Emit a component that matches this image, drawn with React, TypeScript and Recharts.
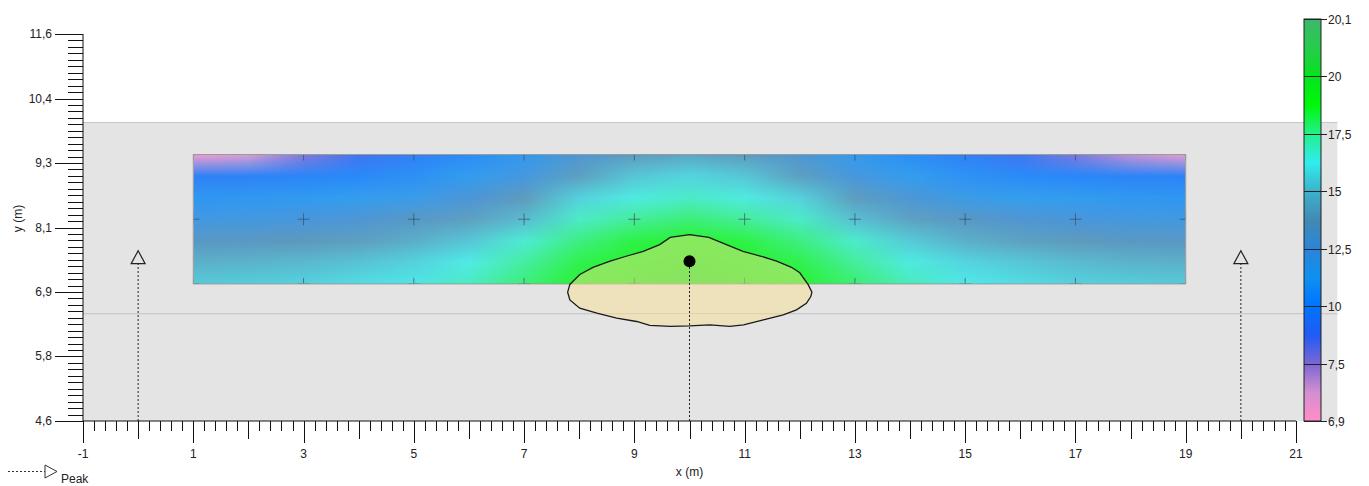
import React from 'react';
import {
  ScatterChart,
  Scatter,
  XAxis,
  YAxis,
  ReferenceArea,
  ReferenceLine,
} from 'recharts';

// axis ranges (m)
const xRange = [-1, 21];
const yRange = [4.6, 11.6];
const xStep = 0.2;
const yDivisions = 60;

// measurement grid
const gridX = [1, 3, 5, 7, 9, 11, 13, 15, 17, 19];
const gridY = [7.08, 8.25, 9.42];

// level map: columns x = 1..19, rows from top to bottom
const mapX = [1, 2, 3, 4, 5, 6, 7, 8, 9, 10, 11, 12, 13, 14, 15, 16, 17, 18, 19];
const mapY = [9.42, 9.03, 8.64, 8.25, 7.86, 7.47, 7.08];
const mapRow0 = [7.0, 7.2, 7.7, 8.8, 9.6, 10.3, 11.0, 12.8, 13.9, 14.3, 13.9, 12.8, 11.1, 10.4, 9.7, 8.9, 7.8, 7.3, 7.1];
const mapRow1 = [9.6, 9.7, 9.9, 10.1, 10.5, 11.1, 12.2, 14.0, 15.3, 15.7, 15.3, 14.0, 12.3, 11.2, 10.6, 10.2, 10.0, 9.8, 9.7];
const mapRow2 = [10.8, 10.9, 11.0, 11.2, 11.6, 12.6, 13.8, 15.6, 16.4, 16.8, 16.4, 15.6, 13.9, 12.7, 11.7, 11.3, 11.1, 10.9, 10.8];
const mapRow3 = [12.0, 12.1, 12.3, 12.7, 13.3, 14.0, 15.0, 16.8, 17.5, 17.9, 17.5, 16.8, 15.1, 14.1, 13.4, 12.8, 12.4, 12.1, 12.0];
const mapRow4 = [13.4, 13.5, 13.7, 14.0, 14.5, 15.3, 16.6, 17.8, 18.5, 18.9, 18.5, 17.8, 16.7, 15.4, 14.6, 14.1, 13.8, 13.5, 13.4];
const mapRow5 = [14.6, 14.7, 14.9, 15.2, 15.6, 16.3, 17.4, 18.4, 19.0, 19.4, 19.0, 18.4, 17.5, 16.4, 15.7, 15.3, 15.0, 14.7, 14.6];
const mapRow6 = [15.4, 15.5, 15.6, 15.9, 16.1, 16.9, 17.9, 18.8, 19.4, 19.8, 19.4, 18.8, 18.0, 17.0, 16.2, 15.9, 15.6, 15.5, 15.4];
const mapRows = [mapRow0, mapRow1, mapRow2, mapRow3, mapRow4, mapRow5, mapRow6];

// colour scale, top to bottom (equally spaced on the bar)
const scaleTicks = [20.1, 20, 17.5, 15, 12.5, 10, 7.5, 6.9];
const scaleStopPos = [0, 1 / 14, 1 / 7, 3 / 14, 2 / 7, 5 / 14, 3 / 7, 1 / 2, 4 / 7, 9 / 14, 5 / 7, 11 / 14, 6 / 7, 13 / 14, 1];
const scaleStopColors = [
  '#3db86c', '#27cc4c', '#05e41c', '#00f80a', '#24ef8c', '#30ecec', '#3cb2cc', '#4289b4',
  '#2a85d8', '#0e90f0', '#0074ff', '#1f5cf4', '#7a66d4', '#d48fd0', '#ff8dc8',
];

// zone outline
const zoneX = [10.0, 10.35, 10.67, 10.97, 11.3, 11.58, 11.85, 12.0, 12.15, 12.22, 12.2, 12.12, 11.94, 11.7, 11.34, 10.98, 10.73, 10.37, 10.0, 9.65, 9.28, 9.04, 8.68, 8.32, 8.01, 7.83, 7.79, 7.83, 8.01, 8.25, 8.56, 8.85, 9.16, 9.46, 9.65];
const zoneY = [7.97, 7.92, 7.79, 7.67, 7.58, 7.49, 7.38, 7.28, 7.07, 6.93, 6.85, 6.73, 6.61, 6.52, 6.43, 6.34, 6.31, 6.34, 6.32, 6.31, 6.33, 6.4, 6.46, 6.55, 6.64, 6.79, 6.93, 7.07, 7.25, 7.38, 7.49, 7.58, 7.67, 7.79, 7.92];

// peaks
const peakX = [0, 10, 20];
const peakTop = [7.68, 7.49, 7.68];
const arrowPeaks = [0, 20];
const source = [{ x: 10, y: 7.49 }];

const areaTop = 10;
const areaRight = 21.75;
const innerLine = 6.54;

const zone = zoneX.map((x, i) => ({ x, y: zoneY[i] }));
const arrows = arrowPeaks.map((x) => ({ x, y: peakTop[peakX.indexOf(x)] }));

const xTicks = Array.from({ length: Math.round((xRange[1] - xRange[0]) / xStep) + 1 }, (_, i) =>
  Math.round((xRange[0] + i * xStep) * 10) / 10
);
const yTicks = Array.from({ length: yDivisions + 1 }, (_, i) =>
  Number((yRange[0] + (i * (yRange[1] - yRange[0])) / yDivisions).toFixed(6))
);

const FONT = '"Liberation Sans", Arial, sans-serif';
const comma = (s: string) => s.replace('.', ',');

const hexRgb = (h: string) => [1, 3, 5].map((i) => parseInt(h.slice(i, i + 2), 16));

function levelPos(v: number) {
  const n = scaleTicks.length - 1;
  for (let i = 0; i < n; i++) {
    const hi = scaleTicks[i];
    const lo = scaleTicks[i + 1];
    if (v >= lo) return (i + Math.min(1, Math.max(0, (hi - v) / (hi - lo)))) / n;
  }
  return 1;
}

function levelColor(v: number) {
  const t = levelPos(v);
  let j = 0;
  while (j < scaleStopPos.length - 2 && t > scaleStopPos[j + 1]) j++;
  const f = (t - scaleStopPos[j]) / (scaleStopPos[j + 1] - scaleStopPos[j]);
  const a = hexRgb(scaleStopColors[j]);
  const b = hexRgb(scaleStopColors[j + 1]);
  const c = a.map((ch, k) => Math.round(ch + (b[k] - ch) * f));
  return `rgb(${c[0]},${c[1]},${c[2]})`;
}

const XTick = (props: any) => {
  const { x, y, payload } = props;
  const k = Math.round((payload.value - xRange[0]) / xStep);
  const major = k % 10 === 0;
  const len = major ? 22 : k % 5 === 0 ? 18 : 10;
  const px = Math.round(x) + 0.5;
  return (
    <g>
      <line x1={px} y1={y} x2={px} y2={y + len} stroke="#111" />
      {major && (
        <text x={x} y={y + 37} textAnchor="middle" fontSize={12} fill="#222" fontFamily={FONT}>
          {String(payload.value)}
        </text>
      )}
    </g>
  );
};

const YTick = (props: any) => {
  const { x, y, payload } = props;
  const k = Math.round(((payload.value - yRange[0]) / (yRange[1] - yRange[0])) * yDivisions);
  const major = k % 10 === 0;
  const len = major ? 28 : 15;
  const py = Math.round(y) + 0.5;
  return (
    <g>
      <line x1={x - len} y1={py} x2={x} y2={py} stroke="#111" />
      {major && (
        <text x={x - len - 3} y={y + 4} textAnchor="end" fontSize={12} fill="#222" fontFamily={FONT}>
          {comma(payload.value.toFixed(1))}
        </text>
      )}
    </g>
  );
};

// the level map is drawn inside the box the reference area gets from the axes
const HeatMap = (props: any) => {
  const { x, y, width, height } = props;
  const colPos = (v: number) => x + ((v - mapX[0]) / (mapX[mapX.length - 1] - mapX[0])) * width;
  const rowPos = (v: number) => y + ((mapY[0] - v) / (mapY[0] - mapY[mapY.length - 1])) * height;
  const rowsPx = mapY.map((v) => Math.round(rowPos(v)));

  const bands: React.ReactNode[] = [];
  for (let r = 0; r < mapRows.length - 1; r++) {
    const top = rowsPx[r];
    const h = rowsPx[r + 1] - top;
    bands.push(<rect key={`a${r}`} x={x} y={top} width={width} height={h} fill={`url(#heatRow${r})`} />);
    bands.push(
      <rect key={`b${r}`} x={x} y={top} width={width} height={h} fill={`url(#heatRow${r + 1})`} mask="url(#heatFade)" />
    );
  }

  const crosses: React.ReactNode[] = [];
  gridX.forEach((gx) =>
    gridY.forEach((gy) => {
      const cx = colPos(gx);
      const cy = rowPos(gy);
      crosses.push(<path key={`${gx}-${gy}`} d={`M${cx - 6},${cy}H${cx + 6}M${cx},${cy - 6}V${cy + 6}`} />);
    })
  );

  return (
    <g>
      <defs>
        {mapRows.map((row, r) => (
          <linearGradient key={r} id={`heatRow${r}`} x1="0" y1="0" x2="1" y2="0">
            {row.map((v, i) => (
              <stop key={i} offset={(mapX[i] - mapX[0]) / (mapX[mapX.length - 1] - mapX[0])} stopColor={levelColor(v)} />
            ))}
          </linearGradient>
        ))}
        <linearGradient id="heatFadeGrad" x1="0" y1="0" x2="0" y2="1">
          <stop offset="0" stopColor="#fff" stopOpacity={0} />
          <stop offset="1" stopColor="#fff" stopOpacity={1} />
        </linearGradient>
        <mask id="heatFade" maskContentUnits="objectBoundingBox">
          <rect x="0" y="0" width="1" height="1" fill="url(#heatFadeGrad)" />
        </mask>
        <clipPath id="heatClip">
          <rect x={x} y={y} width={width} height={height} />
        </clipPath>
      </defs>
      <g clipPath="url(#heatClip)">
        <g opacity={0.82}>{bands}</g>
        <g stroke="#34495a" strokeOpacity={0.65} strokeWidth={1} fill="none">
          {crosses}
        </g>
      </g>
      <rect x={x} y={y} width={width} height={height} fill="none" stroke="#9a9a9a" />
    </g>
  );
};

const ArrowHead = (p: any) => (
  <path
    d={`M${p.cx},${p.cy}L${p.cx + 7},${p.cy + 13}L${p.cx - 7},${p.cy + 13}Z`}
    fill="#e4e4e4"
    stroke="#222"
    strokeWidth={1.2}
  />
);

const SourceDot = (p: any) => <circle cx={p.cx} cy={p.cy} r={6} fill="#000" />;
const NoDot = () => <g />;

// colour bar and legend sit beside the plot
const ColorBar = () => {
  const left = 1304;
  const barW = 17;
  const top = 19;
  const bottom = 421;
  const step = (bottom - top) / (scaleTicks.length - 1);
  return (
    <g>
      <defs>
        <linearGradient id="scaleGrad" x1="0" y1="0" x2="0" y2="1">
          {scaleStopColors.map((c, i) => (
            <stop key={i} offset={scaleStopPos[i]} stopColor={c} />
          ))}
        </linearGradient>
      </defs>
      <rect x={left} y={top} width={barW} height={bottom - top} fill="url(#scaleGrad)" stroke="#222" />
      {scaleTicks.map((v, i) => {
        const ty = Math.round(top + i * step) + 0.5;
        return (
          <g key={v}>
            <line x1={left} y1={ty} x2={left + barW + 6} y2={ty} stroke="#222" />
            <text x={left + barW + 7} y={ty + 4} fontSize={12} fill="#222" fontFamily={FONT}>
              {comma(String(v))}
            </text>
          </g>
        );
      })}
    </g>
  );
};

const PeakLegend = () => (
  <g>
    <line x1={8} y1={471.5} x2={45} y2={471.5} stroke="#333" strokeDasharray="2 2" />
    <path d="M45,465L57,471.5L45,478Z" fill="#fff" stroke="#333" />
    <text x={61} y={483} fontSize={12} fill="#222" fontFamily={FONT}>
      Peak
    </text>
  </g>
);

export default function App() {
  return (
    <div style={{ position: 'relative', width: 1369, height: 486, fontFamily: FONT }}>
      <style>{'body{margin:0}'}</style>
      <ScatterChart width={1369} height={486} margin={{ top: 34, right: 73, bottom: 35, left: 0 }}>
        <XAxis
          type="number"
          dataKey="x"
          domain={xRange}
          ticks={xTicks}
          interval={0}
          allowDataOverflow
          height={30}
          tickSize={0}
          tickMargin={0}
          tickLine={false}
          tick={XTick}
          axisLine={{ stroke: '#111' }}
          label={{ value: 'x (m)', position: 'bottom', offset: 16, fill: '#222', fontSize: 12 }}
        />
        <YAxis
          type="number"
          dataKey="y"
          domain={yRange}
          ticks={yTicks}
          interval={0}
          allowDataOverflow
          width={83}
          tickSize={0}
          tickMargin={0}
          tickLine={false}
          tick={YTick}
          axisLine={{ stroke: '#111' }}
          label={{
            value: 'y (m)',
            angle: -90,
            position: 'insideLeft',
            offset: 18,
            dy: -9,
            fill: '#222',
            fontSize: 12,
            style: { textAnchor: 'middle' },
          }}
        />

        <ReferenceArea
          x1={xRange[0]}
          x2={areaRight}
          y1={yRange[0]}
          y2={areaTop}
          fill="#e4e4e4"
          fillOpacity={1}
          stroke="none"
          ifOverflow="visible"
          zIndex={10}
        />
        <ReferenceLine
          segment={[{ x: xRange[0], y: areaTop }, { x: areaRight, y: areaTop }]}
          stroke="#c6c6c6"
          ifOverflow="visible"
          zIndex={20}
        />
        <ReferenceLine
          segment={[{ x: xRange[0], y: innerLine }, { x: areaRight, y: innerLine }]}
          stroke="#c2c2c2"
          ifOverflow="visible"
          zIndex={20}
        />

        <ReferenceArea
          x1={mapX[0]}
          x2={mapX[mapX.length - 1]}
          y1={mapY[mapY.length - 1]}
          y2={mapY[0]}
          shape={HeatMap}
          zIndex={30}
        />

        <Scatter
          data={zone}
          dataKey="y"
          shape={NoDot}
          line={{ fill: '#fbe08e', fillOpacity: 0.45, stroke: '#1a1a1a', strokeWidth: 1.3 }}
          lineJointType="linearClosed"
          isAnimationActive={false}
          zIndex={40}
        />

        {peakX.map((px, i) => (
          <ReferenceLine
            key={px}
            segment={[{ x: px, y: yRange[0] }, { x: px, y: peakTop[i] }]}
            stroke="#222"
            strokeDasharray="2 2"
            zIndex={50}
          />
        ))}

        <Scatter data={arrows} dataKey="y" shape={ArrowHead} isAnimationActive={false} zIndex={60} />
        <Scatter data={source} dataKey="y" shape={SourceDot} isAnimationActive={false} zIndex={70} />
      </ScatterChart>
      <svg width={1369} height={486} style={{ position: 'absolute', left: 0, top: 0, pointerEvents: 'none' }}>
        <ColorBar />
        <PeakLegend />
      </svg>
    </div>
  );
}
